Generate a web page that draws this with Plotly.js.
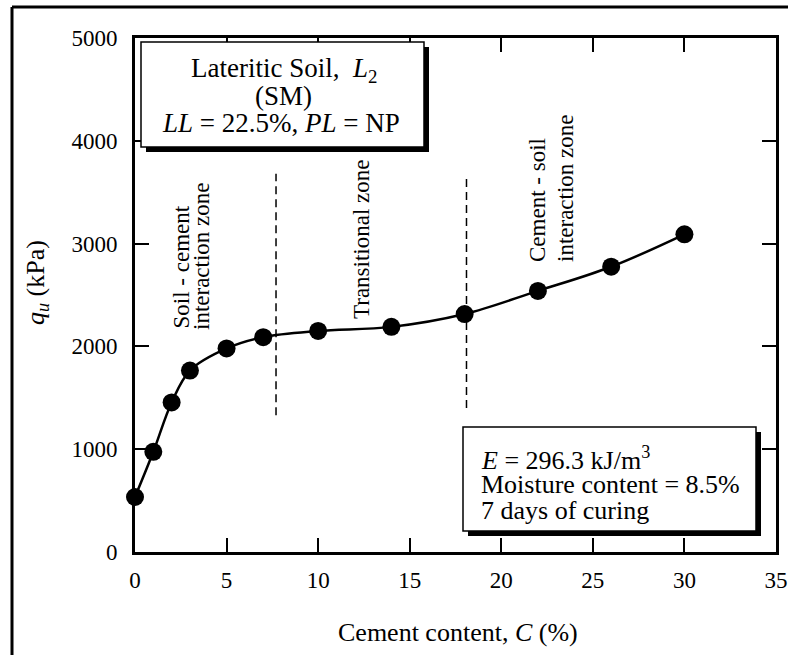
<!DOCTYPE html>
<html>
<head>
<meta charset="utf-8">
<script src="https://cdn.plot.ly/plotly-3.0.1.min.js"></script>
<style>
  html, body { margin: 0; padding: 0; background: #fff; }
  #chart { width: 788px; height: 655px; }
</style>
</head>
<body>
<div id="chart"></div>
<script>
// Unconfined compressive strength vs. cement content
const cement = [0, 1, 2, 3, 5, 7, 10, 14, 18, 22, 26, 30];
const qu = [535, 975, 1455, 1765, 1980, 2090, 2150, 2190, 2315, 2540, 2775, 3090];

// Zone boundaries (dashed verticals)
const zoneX = [7.7, 18.1];
const zoneLow = [1330, 1400];
const zoneHigh = [3680, 3670];

// Tick labels
const xTicks = [0, 5, 10, 15, 20, 25, 30, 35];
const yTicks = [0, 1000, 2000, 3000, 4000, 5000];

const W = 788, H = 655;
const L = 135, R = 776, T = 38, B = 552;
const px = v => (v - L) / (R - L);
const py = v => (B - v) / (B - T);

const FONT = 'Liberation Serif, Times New Roman, serif';

const trace = {
  x: cement,
  y: qu,
  mode: 'lines+markers',
  line: { color: '#000', width: 2.5, shape: 'spline', smoothing: 1 },
  marker: { color: '#000', size: 18 },
  cliponaxis: false,
  hoverinfo: 'skip',
  showlegend: false
};

const shapes = [];

// outer frame (left and top edges)
shapes.push({ type: 'line', xref: 'paper', yref: 'paper', x0: px(12), x1: px(12), y0: py(7), y1: py(H + 10), line: { color: '#000', width: 3 }, layer: 'above' });
shapes.push({ type: 'line', xref: 'paper', yref: 'paper', x0: px(12), x1: px(W + 10), y0: py(7), y1: py(7), line: { color: '#000', width: 3 }, layer: 'above' });

// dashed zone dividers
zoneX.forEach((x, i) => {
  shapes.push({ type: 'line', xref: 'x', yref: 'y', x0: x, x1: x, y0: zoneLow[i], y1: zoneHigh[i],
    line: { color: '#000', width: 1.5, dash: '8px,5px' }, layer: 'below' });
});

// info boxes with drop shadow
function shadowBox(x0, y0, x1, y1) {
  shapes.push({ type: 'rect', xref: 'paper', yref: 'paper', x0: px(x0 + 5), x1: px(x1 + 5), y0: py(y1 + 5), y1: py(y0 + 5),
    fillcolor: '#000', line: { width: 0 }, layer: 'above' });
  shapes.push({ type: 'rect', xref: 'paper', yref: 'paper', x0: px(x0), x1: px(x1), y0: py(y1), y1: py(y0),
    fillcolor: '#fff', line: { color: '#000', width: 1.5 }, layer: 'above' });
}
shadowBox(141, 42, 424, 147);
shadowBox(463, 427, 756, 531);

const annotations = [];
function label(text, x, y, opts) {
  annotations.push(Object.assign({
    text: text, xref: 'paper', yref: 'paper', x: px(x), y: py(y),
    showarrow: false, font: { family: FONT, size: 26, color: '#000' },
    xanchor: 'center', yanchor: 'middle'
  }, opts || {}));
}

// box 1
const bf = { family: FONT, size: 27, color: '#000' };
label('Lateritic Soil,  <i>L</i><sub>2</sub>', 284, 70, { font: bf });
label('(SM)', 283, 96, { font: bf });
label('<i>LL</i> = 22.5%, <i>PL</i> = NP', 281, 123, { font: bf });

// box 2
label('<i>E</i> = 296.3 kJ/m<sup>3</sup>', 479, 458, { xanchor: 'left' });
label('Moisture content = 8.5%', 479, 484, { xanchor: 'left' });
label('7 days of curing', 479, 510, { xanchor: 'left' });

// zone labels
const zf = { family: FONT, size: 23, color: '#000' };
label('Soil - cement', 181, 331, { textangle: -90, yanchor: 'bottom', font: zf });
label('interaction zone', 201, 332, { textangle: -90, yanchor: 'bottom', font: zf });
label('Transitional zone', 361, 321, { textangle: -90, yanchor: 'bottom', font: zf });
label('Cement - soil', 537, 264, { textangle: -90, yanchor: 'bottom', font: zf });
label('interaction zone', 565, 264, { textangle: -90, yanchor: 'bottom', font: zf });

// axis titles
label('Cement content, <i>C</i> (%)', 458, 632);
label('<i>q</i><sub><i>u</i></sub> (kPa)', 37, 283, { textangle: -90 });

const axisCommon = {
  showline: true, linecolor: '#000', linewidth: 3, mirror: 'ticks',
  ticks: 'inside', ticklen: 14, tickwidth: 2, tickcolor: '#000',
  showgrid: false, zeroline: false, fixedrange: true,
  tickfont: { family: FONT, size: 23, color: '#000' }
};

const layout = {
  width: W, height: H,
  margin: { l: L, r: W - R, t: T, b: H - B, pad: 0 },
  paper_bgcolor: '#fff', plot_bgcolor: '#fff',
  xaxis: Object.assign({}, axisCommon, { range: [0, 35], tickvals: xTicks, ticktext: xTicks.map(String), ticklabelstandoff: 5 }),
  yaxis: Object.assign({}, axisCommon, { range: [0, 5000], tickvals: yTicks, ticktext: yTicks.map(String), ticklabelstandoff: 10 }),
  shapes: shapes,
  annotations: annotations,
  showlegend: false
};

Plotly.newPlot('chart', [trace], layout, { displayModeBar: false, staticPlot: true });
</script>
</body>
</html>
